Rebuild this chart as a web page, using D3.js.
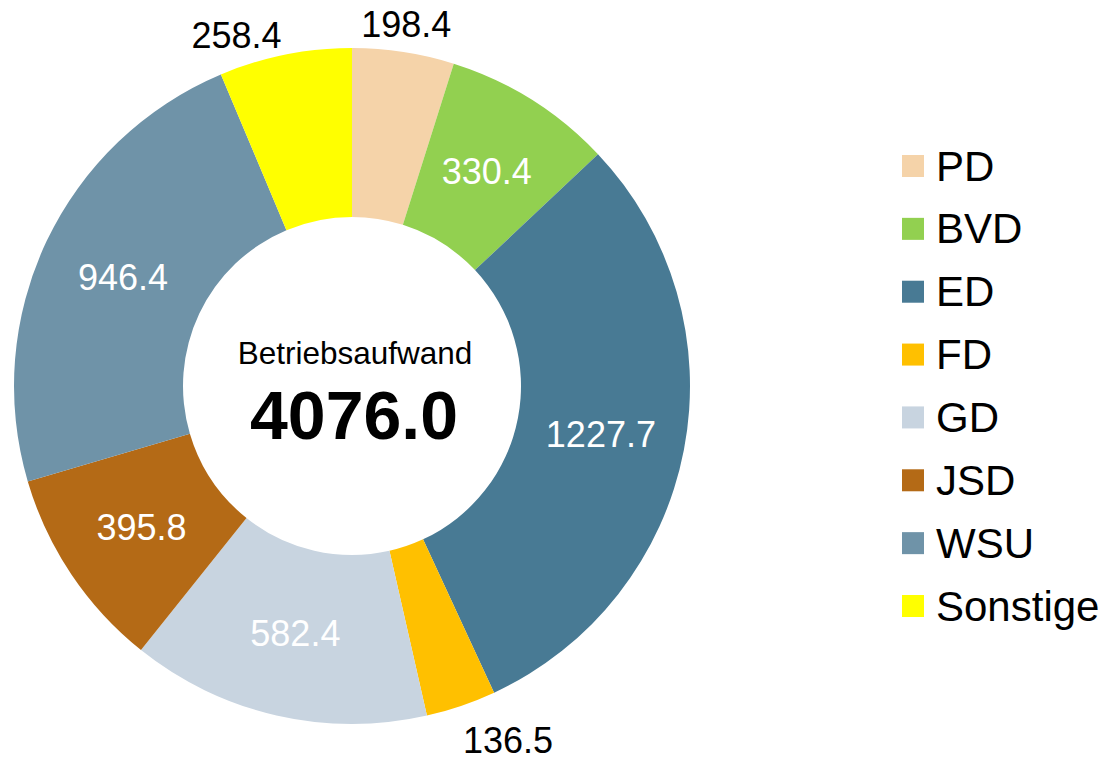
<!DOCTYPE html>
<html>
<head>
<meta charset="utf-8">
<script src="https://cdn.jsdelivr.net/npm/d3@7"></script>
<style>
  html, body { margin: 0; padding: 0; background: #fff; }
  svg { display: block; font-family: "Liberation Sans", Arial, sans-serif; }
</style>
</head>
<body>
<svg id="chart" width="1103" height="762"></svg>
<script>
const categories = ["PD", "BVD", "ED", "FD", "GD", "JSD", "WSU", "Sonstige"];
const values = [198.4, 330.4, 1227.7, 136.5, 582.4, 395.8, 946.4, 258.4];
const colors = ["#F5D3A9", "#92D050", "#487A94", "#FFC000", "#C8D4E0", "#B46A16", "#6F93A8", "#FFFF00"];
const insideLabel = [false, true, true, false, true, true, true, false];
const centerTitle = "Betriebsaufwand";

const data = categories.map((c, i) => ({ name: c, value: values[i], color: colors[i], inside: insideLabel[i] }));
const total = d3.sum(values);

const svg = d3.select("#chart");
const cx = 352, cy = 386;
const outerR = 338, innerR = 169, labelR = 356;

const pie = d3.pie().value(d => d.value).sort(null);
const arc = d3.arc().innerRadius(innerR).outerRadius(outerR);
const arcs = pie(data);

const g = svg.append("g").attr("transform", `translate(${cx},${cy})`);

g.selectAll("path.slice")
  .data(arcs)
  .join("path")
  .attr("class", "slice")
  .attr("d", arc)
  .attr("fill", d => d.data.color);

// inside labels
g.selectAll("text.in")
  .data(arcs.filter(d => d.data.inside))
  .join("text")
  .attr("class", "in")
  .attr("x", d => arc.centroid(d)[0])
  .attr("y", d => arc.centroid(d)[1])
  .attr("text-anchor", "middle")
  .attr("dominant-baseline", "central")
  .attr("font-size", 36)
  .attr("fill", "#fff")
  .text(d => d.data.value.toFixed(1));

// outside labels
g.selectAll("text.out")
  .data(arcs.filter(d => !d.data.inside))
  .join("text")
  .attr("class", "out")
  .each(function(d) {
    const a = (d.startAngle + d.endAngle) / 2;
    const s = Math.sin(a), c = Math.cos(a);
    const anchor = s > 0.25 ? "start" : (s < -0.12 ? "end" : "middle");
    const x = s * labelR + (anchor === "start" ? -4 : 0);
    const y = -c * labelR - c * 10 + (anchor !== "middle" ? 8 : 0);
    d3.select(this)
      .attr("x", x)
      .attr("y", y)
      .attr("text-anchor", anchor)
      .attr("dominant-baseline", "central");
  })
  .attr("font-size", 36)
  .attr("fill", "#000")
  .text(d => d.data.value.toFixed(1));

// center text
g.append("text")
  .attr("x", 3).attr("y", -22)
  .attr("text-anchor", "middle")
  .attr("font-size", 31.5)
  .attr("fill", "#000")
  .text(centerTitle);

g.append("text")
  .attr("x", 2).attr("y", 53)
  .attr("text-anchor", "middle")
  .attr("font-size", 68)
  .attr("font-weight", "bold")
  .attr("fill", "#000")
  .text(total.toFixed(1));

// legend
const legendY = d3.scalePoint().domain(categories).range([166, 606]);
const legend = svg.append("g").attr("class", "legend");
const items = legend.selectAll("g")
  .data(data)
  .join("g")
  .attr("transform", d => `translate(902,${legendY(d.name)})`);
items.append("rect")
  .attr("x", 0).attr("y", -11)
  .attr("width", 22).attr("height", 22)
  .attr("fill", d => d.color);
items.append("text")
  .attr("x", 34).attr("y", 0)
  .attr("dominant-baseline", "central")
  .attr("font-size", 42)
  .attr("fill", "#000")
  .text(d => d.name);
</script>
</body>
</html>
